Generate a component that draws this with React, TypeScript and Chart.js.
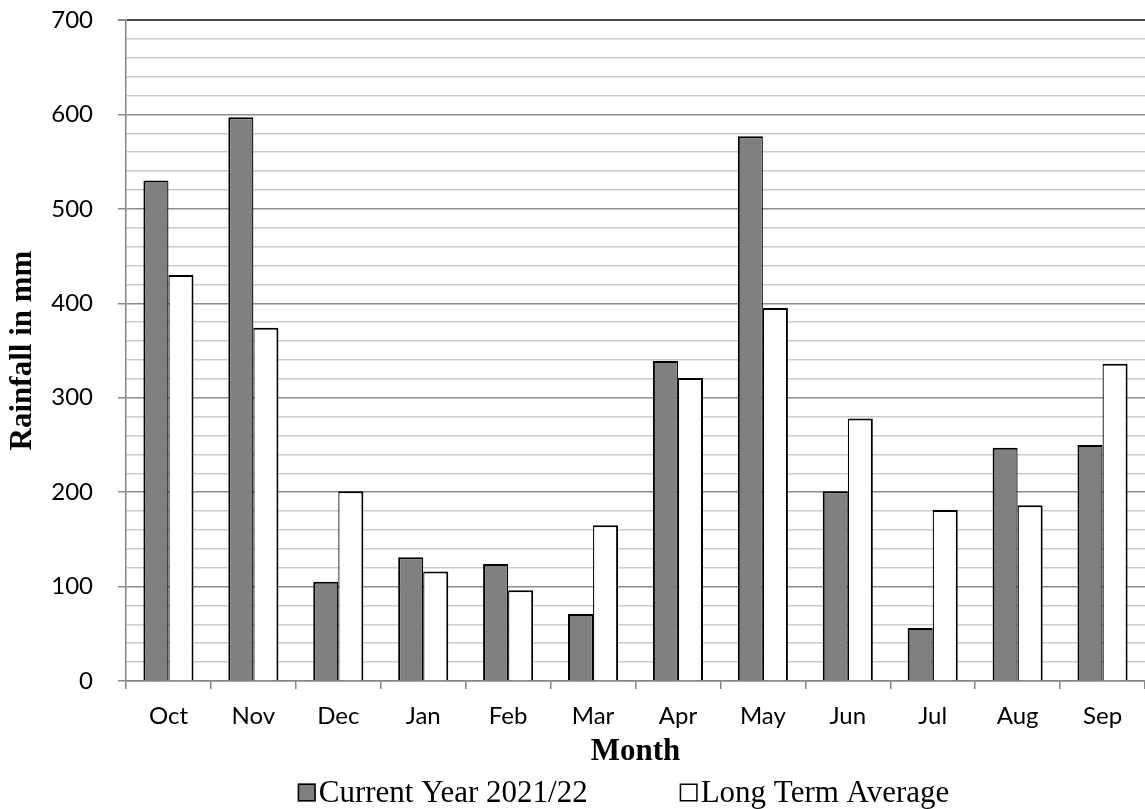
import React, { useEffect, useRef } from "react";
import { Chart, registerables } from "chart.js";

Chart.register(...registerables);

// Monthly rainfall (mm), hydrological year October–September
const months = ["Oct", "Nov", "Dec", "Jan", "Feb", "Mar", "Apr", "May", "Jun", "Jul", "Aug", "Sep"];
const currentYear = [530, 597, 105, 131, 124, 71, 339, 577, 201, 56, 247, 250];
const longTermAverage = [430, 374, 201, 116, 96, 165, 321, 395, 278, 181, 186, 336];
const seriesNames = ["Current Year 2021/22", "Long Term Average"];
const yMax = 700;
const yMinorStep = 20;
const yMajorStep = 100;

const SERIF = "'Liberation Serif', 'Times New Roman', serif";
const SANS = "Lato, 'Open Sans', sans-serif";

// Legend drawn below the axis title, boxes with thin black outlines
const bottomLegend = {
  id: "bottomLegend",
  afterDraw(chart: any) {
    const { ctx, chartArea } = chart;
    const fontSize = 31;
    const box = 18;
    const gapAfterBox = 3;
    const itemGap = 92;
    ctx.save();
    ctx.font = `${fontSize}px ${SERIF}`;
    const items = chart.data.datasets.map((ds: any) => ({
      label: ds.label,
      fill: ds.backgroundColor,
      w: ctx.measureText(ds.label).width,
    }));
    let total = 0;
    items.forEach((it: any, i: number) => {
      total += box + gapAfterBox + it.w + (i < items.length - 1 ? itemGap : 0);
    });
    const center = (chartArea.left + chartArea.right) / 2 - 12;
    let x = center - total / 2;
    const baseline = 802;
    items.forEach((it: any) => {
      ctx.fillStyle = it.fill;
      ctx.fillRect(x, baseline - box - 0.5, box, box);
      ctx.strokeStyle = "#000";
      ctx.lineWidth = 1.5;
      ctx.strokeRect(x + 0.75, baseline - box + 0.25, box - 1.5, box - 1.5);
      x += box + gapAfterBox;
      ctx.fillStyle = "#000";
      ctx.textAlign = "left";
      ctx.textBaseline = "alphabetic";
      ctx.fillText(it.label, x, baseline);
      x += it.w + itemGap;
    });
    ctx.restore();
  },
};

export default function App() {
  const canvasRef = useRef<HTMLCanvasElement | null>(null);

  useEffect(() => {
    const canvas = canvasRef.current;
    if (!canvas) return;
    const chart = new Chart(canvas, {
      type: "bar",
      data: {
        labels: months,
        datasets: [
          {
            label: seriesNames[0],
            data: currentYear,
            backgroundColor: "#808080",
            borderColor: "#000000",
            // thinner inner side so the shared edge with the neighbouring bar reads as one outline
            borderWidth: { top: 2, left: 2, right: 1.25, bottom: 0 },
            borderSkipped: "start",
            categoryPercentage: 0.59,
            barPercentage: 1,
          },
          {
            label: seriesNames[1],
            data: longTermAverage,
            backgroundColor: "#ffffff",
            borderColor: "#000000",
            borderWidth: { top: 2, left: 1.25, right: 2, bottom: 0 },
            borderSkipped: "start",
            categoryPercentage: 0.59,
            barPercentage: 1,
          },
        ],
      },
      options: {
        responsive: false,
        animation: false,
        devicePixelRatio: 1,
        layout: { padding: { top: 20, right: 0, bottom: 0, left: 0 } },
        plugins: {
          legend: { display: false },
          tooltip: { enabled: false },
        },
        scales: {
          x: {
            offset: true,
            grid: {
              offset: true,
              drawOnChartArea: false,
              drawTicks: true,
              tickLength: 8,
              color: "#868686",
              lineWidth: 1.5,
            },
            border: { color: "#868686", width: 1.5 },
            ticks: {
              color: "#000",
              font: { family: SANS, size: 24 },
              padding: 13,
              maxRotation: 0,
              autoSkip: false,
            },
            title: {
              display: true,
              text: "Month",
              color: "#000",
              font: { family: SERIF, size: 31, weight: "bold", lineHeight: 1 },
              padding: { top: 0, bottom: 42 },
            },
            afterFit(scale: any) {
              scale.height = 128;
              scale.paddingLeft = 0;
              scale.paddingRight = 0;
            },
          },
          y: {
            min: 0,
            max: yMax,
            ticks: {
              stepSize: yMinorStep,
              autoSkip: false,
              color: "#000",
              font: { family: SANS, size: 24 },
              padding: 25,
              callback: (v: any) => (Number(v) % yMajorStep === 0 ? String(v) : ""),
            },
            grid: {
              drawTicks: true,
              tickLength: 8,
              lineWidth: (c: any) => (c.tick && c.tick.value === yMax ? 2 : 1.5),
              color: (c: any) => {
                const v = c.tick ? c.tick.value : 0;
                if (v === yMax) return "#4a4a4a";
                return v % yMajorStep === 0 ? "#8c8c8c" : "#cccccc";
              },
              tickColor: (c: any) => {
                const v = c.tick ? c.tick.value : 0;
                return v % yMajorStep === 0 ? "#868686" : "rgba(0,0,0,0)";
              },
            },
            border: { color: "#868686", width: 1.5 },
            title: {
              display: true,
              text: "Rainfall in mm",
              color: "#000",
              font: { family: SERIF, size: 31, weight: "bold", lineHeight: 1 },
              padding: { top: 7, bottom: 0 },
            },
            afterFit(scale: any) {
              scale.width = 126;
              scale.paddingTop = 0;
              scale.paddingBottom = 0;
            },
          },
        },
      },
      plugins: [bottomLegend],
    });
    return () => chart.destroy();
  }, []);

  return (
    <div style={{ position: "absolute", left: 0, top: 0, width: 1145, height: 809, background: "#fff" }}>
      <canvas ref={canvasRef} width={1145} height={809} style={{ display: "block" }} />
    </div>
  );
}
